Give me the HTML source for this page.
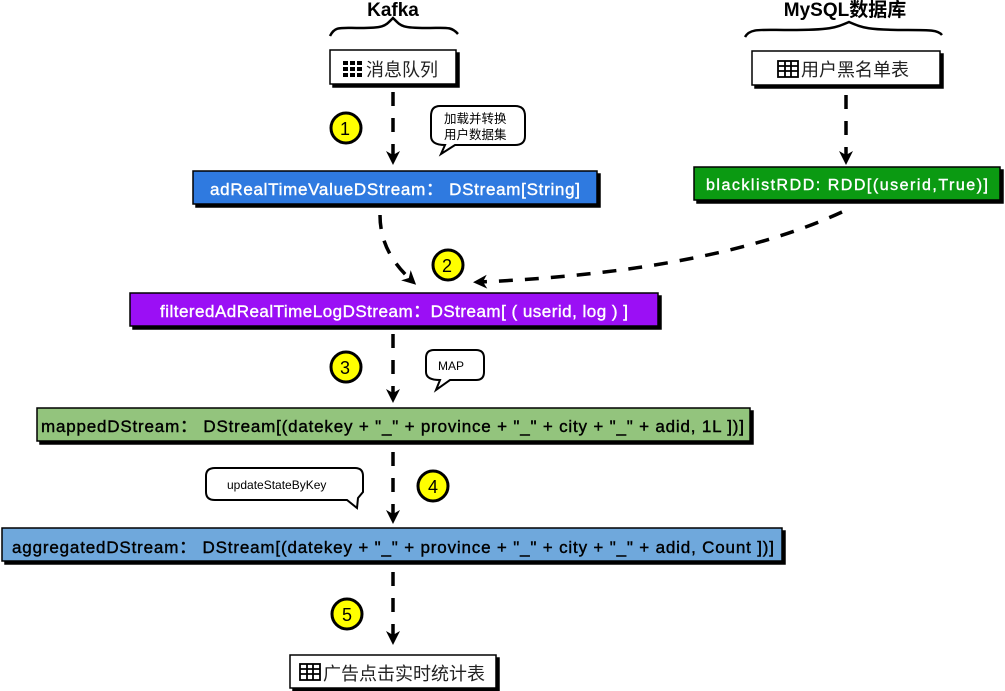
<!DOCTYPE html>
<html><head><meta charset="utf-8"><style>
html,body{margin:0;padding:0;background:#fff;width:1005px;height:691px;overflow:hidden}
svg{display:block}
text{font-family:"Liberation Sans","Noto Sans CJK SC",sans-serif}
</style></head><body>
<svg width="1005" height="691" viewBox="0 0 1005 691">
<defs>
<marker id="ah" markerWidth="16" markerHeight="16" refX="8" refY="8" orient="auto" markerUnits="userSpaceOnUse">
<path d="M1,1 L15,8 L1,15 L5,8 Z" fill="#000"/>
</marker>
</defs>
<g stroke="#000" stroke-width="2.5" fill="none">
<path d="M330,36 C335,26 340,28 360,28 C385,28 385,26 393,18 C401,26 401,28 426,28 C446,28 451,26 458,34"/>
<path d="M745,37 C750,28 760,30 790,30 C830,30 835,28 849,22 C863,28 868,30 908,30 C930,30 938,30 942,35"/>
</g>
<text x="393" y="16" font-size="19" font-weight="bold" text-anchor="middle">Kafka</text>
<text x="845" y="16" font-size="19" font-weight="bold" text-anchor="middle">MySQL数据库</text>

<g stroke="#000" stroke-width="1.5">
<rect x="333" y="53" width="126" height="34" fill="#000"/><rect x="330" y="50" width="126" height="34" fill="#fff"/>
<rect x="755" y="54" width="188" height="34" fill="#000"/><rect x="752" y="51" width="188" height="34" fill="#fff"/>
<rect x="196" y="174" width="404" height="33" fill="#000"/><rect x="193" y="171" width="404" height="33" fill="#2f7ae0"/>
<rect x="697" y="170" width="306" height="33" fill="#000"/><rect x="694" y="167" width="306" height="33" fill="#0b9a12"/>
<rect x="133" y="296" width="528" height="33" fill="#000"/><rect x="130" y="293" width="528" height="33" fill="#9b0ff5"/>
<rect x="40" y="411" width="713" height="33" fill="#000"/><rect x="37" y="408" width="713" height="33" fill="#93c47d"/>
<rect x="5" y="531" width="780" height="33" fill="#000"/><rect x="2" y="528" width="780" height="33" fill="#6fa8dc"/>
<rect x="293" y="658" width="206" height="33" fill="#000"/><rect x="290" y="655" width="206" height="33" fill="#fff"/>
</g>
<g fill="#000">
<rect x="343" y="61" width="5" height="4"/><rect x="350" y="61" width="5" height="4"/><rect x="357" y="61" width="5" height="4"/>
<rect x="343" y="67" width="5" height="4"/><rect x="350" y="67" width="5" height="4"/><rect x="357" y="67" width="5" height="4"/>
<rect x="343" y="73" width="5" height="4"/><rect x="350" y="73" width="5" height="4"/><rect x="357" y="73" width="5" height="4"/>
</g>
<g stroke="#000" stroke-width="1.8" fill="none">
<rect x="778" y="61" width="20" height="16"/><path d="M778,66H798M778,71H798M785,61V77M791,61V77"/>
<rect x="300" y="664" width="20" height="16"/><path d="M300,669H320M300,674H320M307,664V680M313,664V680"/>
</g>
<text x="366" y="76" font-size="18" fill="#222">消息队列</text>
<text x="801" y="76" font-size="18" fill="#222">用户黑名单表</text>
<text x="323" y="680" font-size="18" fill="#222">广告点击实时统计表</text>

<g stroke-width="0.4">
<text x="395" y="195" font-size="17" fill="#fff" stroke="#fff" text-anchor="middle" textLength="370">adRealTimeValueDStream：  DStream[String]</text>
<text x="847" y="190" font-size="16" fill="#fff" stroke="#fff" text-anchor="middle" textLength="282">blacklistRDD:    RDD[(userid,True)]</text>
<text x="394" y="317" font-size="17" fill="#fff" stroke="#fff" text-anchor="middle" textLength="468">filteredAdRealTimeLogDStream：DStream[ ( userid, log ) ]</text>
<text x="41" y="432" font-size="17" fill="#000" stroke="#000" textLength="703">mappedDStream：  DStream[(datekey + "_" + province + "_" + city + "_" + adid, 1L ])]</text>
<text x="12" y="553" font-size="17" fill="#000" stroke="#000" textLength="762">aggregatedDStream：  DStream[(datekey + "_" + province + "_" + city + "_" + adid, Count ])]</text>
</g>

<g stroke="#000" stroke-width="3.5" fill="none" stroke-dasharray="14,12" marker-end="url(#ah)">
<path d="M393,92 V158"/>
<path d="M846,95 V158"/>
<path d="M380,215 C380,245 395,265 411,280"/>
<path d="M842,212 C760,250 640,275 480,282"/>
<path d="M393,334 V396"/>
<path d="M393,452 V517"/>
<path d="M393,572 V638"/>
</g>

<g stroke="#000" stroke-width="3" fill="#ffff00">
<circle cx="346" cy="128" r="15"/><circle cx="448" cy="265" r="15"/><circle cx="346" cy="367" r="15"/>
<circle cx="433" cy="486" r="15"/><circle cx="347" cy="614" r="15"/>
</g>
<g font-size="18" text-anchor="middle" fill="#000">
<text x="345" y="135">1</text><text x="447" y="272">2</text><text x="345" y="374">3</text><text x="433" y="493">4</text><text x="347" y="621">5</text>
</g>

<g stroke="#000" stroke-width="2" fill="#fff">
<path d="M440,106 H515 Q525,106 525,116 V136 Q525,145 515,145 H455 L441,154 L445,145 Q431,145 431,136 V116 Q431,106 440,106 Z"/>
<path d="M434,350 H476 Q484,350 484,358 V372 Q484,380 476,380 H450 L436,390 L440,380 Q426,380 426,372 V358 Q426,350 434,350 Z"/>
<path d="M215,468 H355 Q363,468 363,476 V492 L358,498 L357,508 L347,500 H215 Q206,500 206,492 V476 Q206,468 215,468 Z"/>
</g>
<text x="444" y="123" font-size="12.5">加载并转换</text>
<text x="444" y="139" font-size="12.5">用户数据集</text>
<text x="438" y="370" font-size="12">MAP</text>
<text x="227" y="489" font-size="12">updateStateByKey</text>
</svg>
</body></html>
